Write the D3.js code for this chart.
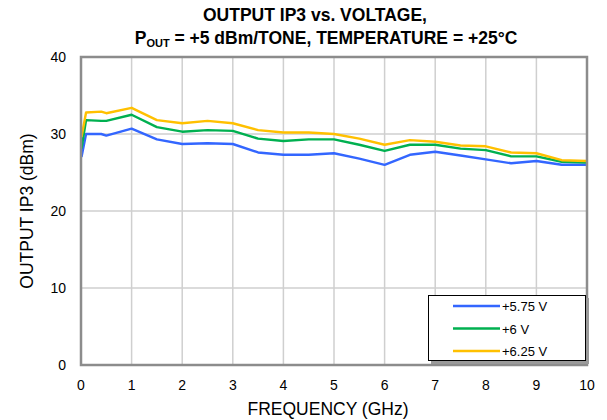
<!DOCTYPE html>
<html>
<head>
<meta charset="utf-8">
<script src="https://d3js.org/d3.v7.min.js"></script>
<style>
body { margin: 0; background: #fff; font-family: "Liberation Sans", Arial, sans-serif; }
svg { display: block; }
</style>
</head>
<body>
<svg></svg>
<script>
const freq = [0.01, 0.1, 0.4, 0.5, 1, 1.5, 2, 2.5, 3, 3.5, 4, 4.5, 5, 5.5, 6, 6.5, 7, 7.5, 8, 8.5, 9, 9.5, 10];
const v575 = [27.0, 30.0, 30.0, 29.8, 30.7, 29.3, 28.7, 28.8, 28.7, 27.6, 27.3, 27.3, 27.5, 26.8, 26.0, 27.3, 27.7, 27.2, 26.7, 26.2, 26.5, 26.0, 26.0];
const v600 = [28.1, 31.8, 31.7, 31.7, 32.5, 30.9, 30.3, 30.5, 30.4, 29.4, 29.1, 29.3, 29.3, 28.6, 27.8, 28.6, 28.6, 28.1, 27.9, 27.1, 27.1, 26.4, 26.3];
const v625 = [29.6, 32.8, 32.9, 32.7, 33.4, 31.8, 31.4, 31.7, 31.4, 30.5, 30.2, 30.2, 30.0, 29.4, 28.6, 29.2, 29.0, 28.5, 28.4, 27.6, 27.5, 26.6, 26.5];
const seriesNames = ["+5.75 V", "+6 V", "+6.25 V"];
const seriesColors = ["#3366ff", "#00b050", "#ffc000"];
const xTicks = d3.range(0, 11, 1);
const yTicks = [0, 10, 20, 30, 40];

const width = 607, height = 420;
const svg = d3.select("svg").attr("width", width).attr("height", height);

const x = d3.scaleLinear().domain([0, 10]).range([81, 587]);
const y = d3.scaleLinear().domain([0, 40]).range([365, 57]);

// grid
svg.append("g").selectAll("line").data(xTicks.slice(1, -1)).join("line")
  .attr("x1", d => x(d)).attr("x2", d => x(d))
  .attr("y1", y(40)).attr("y2", y(0))
  .attr("stroke", "#cfcfcf").attr("stroke-width", 1.5);
svg.append("g").selectAll("line").data(yTicks.slice(1, -1)).join("line")
  .attr("x1", x(0)).attr("x2", x(10))
  .attr("y1", d => y(d)).attr("y2", d => y(d))
  .attr("stroke", "#cfcfcf").attr("stroke-width", 1.5);

// lines
const series = [v575, v600, v625];
const line = d3.line().x((d, i) => x(freq[i])).y(d => y(d));
svg.append("g").selectAll("path").data(series).join("path")
  .attr("d", line)
  .attr("fill", "none")
  .attr("stroke", (d, i) => seriesColors[i])
  .attr("stroke-width", 2.4)
  .attr("stroke-linejoin", "round");

// frame
svg.append("rect")
  .attr("x", x(0)).attr("y", y(40))
  .attr("width", x(10) - x(0)).attr("height", y(0) - y(40))
  .attr("fill", "none").attr("stroke", "#8c8c8c").attr("stroke-width", 2.5);

// tick labels
svg.append("g").selectAll("text").data(xTicks).join("text")
  .attr("x", d => x(d)).attr("y", 390)
  .attr("text-anchor", "middle")
  .attr("font-size", 14)
  .text(d => d);
svg.append("g").selectAll("text").data(yTicks).join("text")
  .attr("x", 66).attr("y", d => y(d) + 5)
  .attr("text-anchor", "end")
  .attr("font-size", 14)
  .text(d => d);

// axis titles
svg.append("text")
  .attr("x", 328).attr("y", 415)
  .attr("text-anchor", "middle").attr("font-size", 17.5)
  .text("FREQUENCY (GHz)");
svg.append("text")
  .attr("transform", `translate(33,${(y(0) + y(40)) / 2}) rotate(-90)`)
  .attr("text-anchor", "middle").attr("font-size", 17.5)
  .text("OUTPUT IP3 (dBm)");

// title
const title = svg.append("g").attr("font-weight", "bold").attr("font-size", 17.5).attr("text-anchor", "middle");
title.append("text").attr("x", 315).attr("y", 21).text("OUTPUT IP3 vs. VOLTAGE,");
const t2 = title.append("text").attr("x", 326).attr("y", 44);
t2.append("tspan").text("P");
t2.append("tspan").attr("font-size", 11).attr("dy", 3).text("OUT");
t2.append("tspan").attr("dy", -3).text(" = +5 dBm/TONE, TEMPERATURE = +25°C");

// legend
const lg = svg.append("g");
lg.append("rect").attr("x", 431).attr("y", 298).attr("width", 158).attr("height", 66).attr("fill", "#9a9a9a");
lg.append("rect").attr("x", 428.5).attr("y", 295.5).attr("width", 157).attr("height", 65)
  .attr("fill", "#fff").attr("stroke", "#000").attr("stroke-width", 1);
const items = lg.selectAll("g.item").data(seriesNames).join("g")
  .attr("transform", (d, i) => `translate(0,${306 + i * 22.5})`);
items.append("line").attr("x1", 453).attr("x2", 500)
  .attr("stroke", (d, i) => seriesColors[i]).attr("stroke-width", 2.4);
items.append("text").attr("x", 502).attr("y", 5).attr("font-size", 13).text(d => d);
</script>
</body>
</html>
